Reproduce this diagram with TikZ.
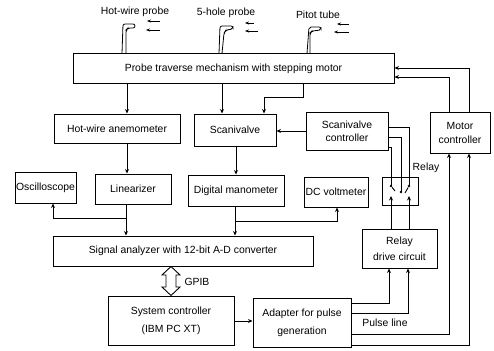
\documentclass[tikz,border=0pt]{standalone}
\usepackage{fontspec}
\setmainfont{Liberation Sans}
\usetikzlibrary{arrows.meta}
\tikzset{
  blockbox/.style={draw, line width=1pt, inner sep=0pt, align=center, font=\fontsize{10.4}{13}\selectfont},
  flowline/.style={line width=0.9pt, -{Stealth[length=4.5pt,width=4pt]}},
  plainline/.style={line width=0.9pt},
  tag/.style={inner sep=0pt, font=\fontsize{10.4}{12}\selectfont},
  probetube/.style={line width=0.8pt, rounded corners=2pt},
  flowmark/.style={line width=0.9pt, -{Stealth[length=4pt,width=3pt]}},
  dot/.style={circle, fill, inner sep=0pt, minimum size=2.6pt}
}
\begin{document}
\begin{tikzpicture}[x=1pt, y=-1pt]
  \useasboundingbox (0,0) rectangle (494,350);
  % boxes
  \node[blockbox, minimum width=321pt, minimum height=30pt] (probe) at (233.5,69) {Probe traverse mechanism with stepping motor};
  \node[blockbox, minimum width=126pt, minimum height=29pt] (anemo) at (117,128.5) {Hot-wire anemometer};
  \node[blockbox, minimum width=82pt, minimum height=32pt] (scani) at (235,130) {Scanivalve};
  \node[blockbox, minimum width=82pt, minimum height=38pt] (scactrl) at (347,131) {Scanivalve\\controller};
  \node[blockbox, minimum width=60pt, minimum height=41pt] (motor) at (460,132.5) {Motor\\[1pt]controller};
  \node[blockbox, minimum width=61pt, minimum height=31pt] (osc) at (45.5,187.5) {Oscilloscope};
  \node[blockbox, minimum width=76pt, minimum height=30pt] (linear) at (133,189) {Linearizer};
  \node[blockbox, minimum width=96pt, minimum height=31pt] (mano) at (236,190.5) {Digital manometer};
  \node[blockbox, minimum width=64pt, minimum height=30pt] (volt) at (336,192) {DC voltmeter};
  \node[blockbox, minimum width=36pt, minimum height=28pt] (relay) at (400,191.5) {};
  \node[blockbox, minimum width=260pt, minimum height=30pt] (signal) at (183,251) {Signal analyzer with 12-bit A-D converter};
  \node[blockbox, minimum width=75pt, minimum height=39pt] (drive) at (399.5,248.5) {Relay\\[3pt]drive circuit};
  \node[blockbox, minimum width=126pt, minimum height=49pt] (system) at (171,320.5) {System controller\\[5pt](IBM PC XT)};
  \node[blockbox, minimum width=98pt, minimum height=49pt] (adapter) at (302,322.5) {Adapter for pulse\\[5pt]generation};

  % labels
  \node[tag] (hwlabel) at (135,12) {Hot-wire probe};
  \node[tag] (fivelabel) at (226,13) {5-hole probe};
  \node[tag] (pitotlabel) at (318,15) {Pitot tube};
  \node[tag] (relaylabel) at (426,168) {Relay};
  \node[tag] (gpiblabel) at (197,282) {GPIB};
  \node[tag] (pulselabel) at (385,323) {Pulse line};

  % helper columns
  \coordinate (hwx) at (127,0);
  \coordinate (fivex) at (222,0);
  \coordinate (linx) at (126,0);
  \coordinate (scax) at (236,0);
  \coordinate (manx) at (235,0);
  \coordinate (voltx) at (337,0);
  \coordinate (oscx) at (53,0);
  \coordinate (relaya) at (391,0);
  \coordinate (relayb) at (401,0);
  \coordinate (relayc) at (409,0);
  \coordinate (motora) at (449,0);
  \coordinate (motorb) at (469,0);

  % probes
  \draw[probetube] (probe.north -| 122,0) -- (123,24) -- (135,24) -- (135,28) -- (128,28) -- (126,30) -- (probe.north -| 126,0);
  \draw[probetube] (probe.north -| 219,0) -- (220,26) -- (233,26) -- (233,29) -- (226,30) -- (224,33) -- (probe.north -| 222,0);
  \draw[probetube] (probe.north -| 307,0) -- (309,27) -- (321,27) -- (321,30) -- (312,31) -- (310,33) -- (probe.north -| 310,0);
  \draw[flowmark] (160,21) -- (147,21);
  \draw[flowmark] (160,30) -- (146,30);
  \draw[flowmark] (254,23) -- (245,23);
  \draw[flowmark] (258,31) -- (245,31);
  \draw[flowmark] (349,24) -- (337,24);
  \draw[flowmark] (349,32) -- (334,32);

  % signal paths
  \draw[flowline] (probe.south -| hwx) -- (anemo.north -| hwx);
  \draw[flowline] (probe.south -| fivex) -- (scani.north -| fivex);
  \draw[flowline] (probe.south -| 303,0) -- (303,97) -- (264,97) -- (scani.north -| 264,0);
  \draw[flowline] (anemo.south -| hwx) -- (linear.north -| hwx);
  \draw[flowline] (scani.south -| scax) -- (mano.north -| scax);
  \draw[flowline] (scactrl.west) -- (scani.east |- scactrl.west);
  \draw[flowline] (linear.south -| linx) -- (signal.north -| linx);
  \draw[flowline] (linx |- 0,218) -- (oscx |- 0,218) -- (osc.south -| oscx);
  \draw[flowline] (mano.south -| manx) -- (signal.north -| manx);
  \draw[flowline] (manx |- 0,221) -- (voltx |- 0,221) -- (volt.south -| voltx);
  \draw[plainline] (motora |- motor.north) -- (motora |- 0,77);
  \draw[flowline] (motora |- 0,77) -- (probe.east |- 0,77);
  \draw[plainline] (motorb |- motor.north) -- (motorb |- 0,68);
  \draw[flowline] (motorb |- 0,68) -- (probe.east |- 0,68);

  % relay
  \draw[plainline] (scactrl.east |- 0,127) -- (relayc |- 0,127) -- (relayc |- 0,186) node[dot] (ct) {};
  \draw[plainline] (scactrl.east |- 0,137) -- (relayb |- 0,137) -- (relayb |- 0,192) node[dot] (cm) {};
  \draw[plainline] (scactrl.east |- 0,147) -- (relaya |- 0,147) -- (relaya |- 0,186) node[dot] (cl) {};
  \draw[plainline] (cl) -- (395,191);
  \draw[plainline] (ct) -- (405,193);
  \draw[flowline] (drive.north -| relaya) -- (relaya |- 0,196);
  \draw[flowline] (drive.north -| relayc) -- (relayc |- 0,196);

  % pulse lines
  \draw[flowline] (adapter.east |- 0,303) -- (389,303) -- (drive.south -| 389,0);
  \draw[flowline] (adapter.east |- 0,313) -- (408,313) -- (drive.south -| 408,0);
  \draw[flowline] (adapter.east |- 0,334) -- (motora |- 0,334) -- (motor.south -| motora);
  \draw[flowline] (adapter.east |- 0,345) -- (motorb |- 0,345) -- (motor.south -| motorb);
  \draw[flowline] (system.east |- 0,321) -- (adapter.west |- 0,321);

  % GPIB link
  \draw[line width=0.9pt] (signal.south -| 171,0) -- (162,275) -- (166,275) -- (166,287) -- (162,287) -- (system.north -| 171,0) -- (180,287) -- (176,287) -- (176,275) -- (180,275) -- cycle;
\end{tikzpicture}
\end{document}
